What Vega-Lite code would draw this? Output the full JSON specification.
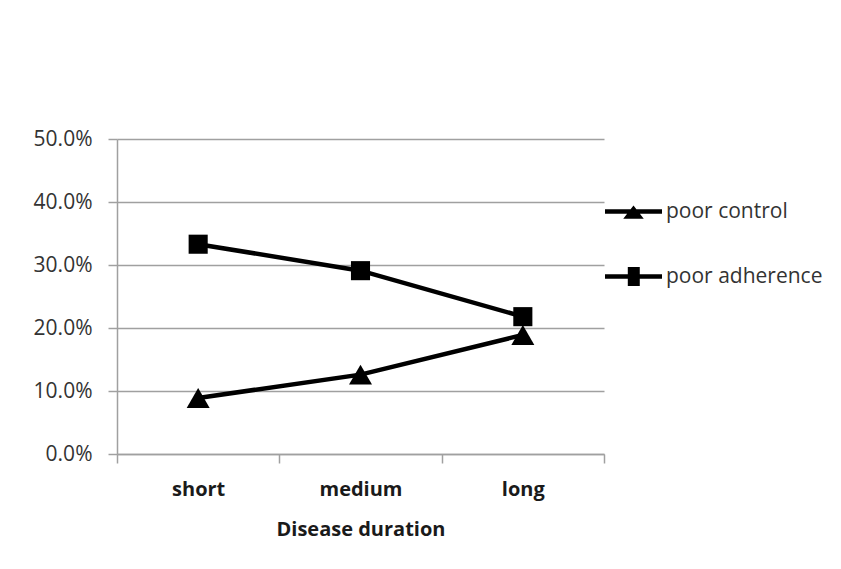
{
  "$schema": "https://vega.github.io/schema/vega-lite/v6.json",
  "width": 487,
  "height": 315,
  "autosize": "none",
  "padding": {"left": 117, "top": 139, "right": 237, "bottom": 115},
  "background": "white",
  "config": {
    "view": {"stroke": null},
    "font": "Open Sans"
  },
  "data": {
    "values": [
      {"duration": "short", "series": "poor control", "value": 0.089},
      {"duration": "medium", "series": "poor control", "value": 0.126},
      {"duration": "long", "series": "poor control", "value": 0.189},
      {"duration": "short", "series": "poor adherence", "value": 0.333},
      {"duration": "medium", "series": "poor adherence", "value": 0.291},
      {"duration": "long", "series": "poor adherence", "value": 0.218}
    ]
  },
  "encoding": {
    "x": {
      "field": "duration",
      "type": "nominal",
      "sort": ["short", "medium", "long"],
      "scale": {"type": "band", "paddingInner": 0, "paddingOuter": 0},
      "axis": {
        "title": "Disease duration",
        "labelAngle": 0,
        "tickBand": "extent",
        "tickSize": 9,
        "tickColor": "#a0a0a0",
        "tickWidth": 1.5,
        "domainColor": "#a0a0a0",
        "domainWidth": 1.5,
        "labelFont": "Open Sans",
        "labelFontSize": 20,
        "labelFontWeight": "bold",
        "labelColor": "#1a1a1a",
        "labelPadding": 16,
        "titleFont": "Open Sans",
        "titleFontSize": 20,
        "titleFontWeight": "bold",
        "titleColor": "#1a1a1a",
        "titlePadding": 20
      }
    },
    "y": {
      "field": "value",
      "type": "quantitative",
      "scale": {"domain": [0, 0.5], "nice": false},
      "axis": {
        "title": null,
        "format": ".1%",
        "values": [0, 0.1, 0.2, 0.3, 0.4, 0.5],
        "tickSize": 9,
        "tickColor": "#a0a0a0",
        "tickWidth": 1.5,
        "domainColor": "#a0a0a0",
        "domainWidth": 1.5,
        "gridColor": "#a0a0a0",
        "gridWidth": 1.5,
        "labelFont": "Open Sans",
        "labelFontSize": 21,
        "labelColor": "#333333",
        "labelPadding": 16
      }
    }
  },
  "resolve": {"scale": {"shape": "independent"}, "legend": {"shape": "independent"}},
  "layer": [
    {
      "mark": {"type": "line", "color": "black", "strokeWidth": 4.5},
      "encoding": {
        "detail": {"field": "series", "type": "nominal"}
      }
    },
    {
      "mark": {"type": "point", "filled": true, "color": "black", "opacity": 1, "strokeWidth": 0, "size": 529},
      "encoding": {
        "shape": {
          "field": "series",
          "type": "nominal",
          "scale": {"domain": ["poor control", "poor adherence"], "range": ["triangle-up", "M-0.83,-0.83H0.83V0.83H-0.83Z"]},
          "legend": null
        }
      }
    },
    {
      "mark": {"type": "point", "filled": true, "color": "black", "opacity": 0, "strokeWidth": 0},
      "encoding": {
        "shape": {
          "field": "series",
          "type": "nominal",
          "scale": {
            "domain": ["poor control", "poor adherence"],
            "range": [
              "M-1,-0.08H1V0.08H-1Z M0,-0.21L0.36,0.25H-0.36Z",
              "M-1,-0.08H1V0.08H-1Z M-0.2,-0.33H0.22V0.33H-0.2Z"
            ]
          },
          "legend": {
            "title": null,
            "orient": "none",
            "legendX": 488,
            "legendY": 44,
            "symbolSize": 3249,
            "symbolFillColor": "black",
            "symbolOpacity": 1,
            "symbolStrokeWidth": 0,
            "labelFont": "Open Sans",
            "labelFontSize": 21,
            "labelColor": "#333333",
            "labelOffset": 4,
            "rowPadding": 26
          }
        }
      }
    }
  ]
}
